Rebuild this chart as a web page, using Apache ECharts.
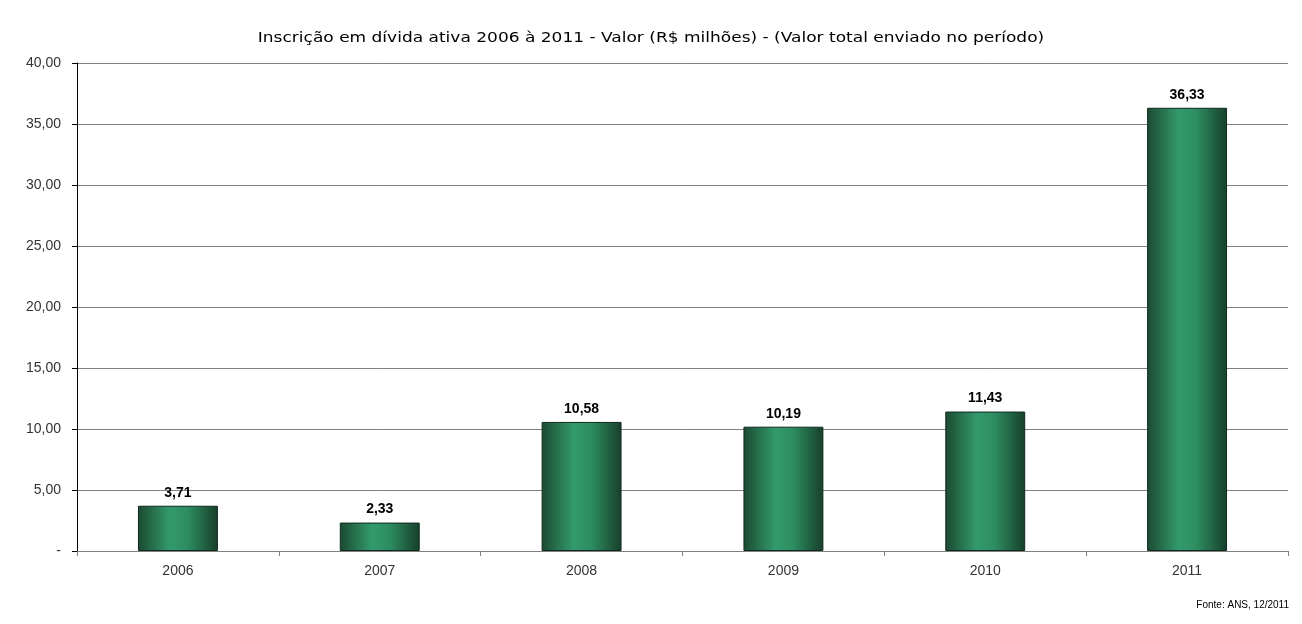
<!DOCTYPE html>
<html>
<head>
<meta charset="utf-8">
<script src="https://cdn.jsdelivr.net/npm/echarts@6/dist/echarts.min.js"></script>
<style>
  html, body { margin: 0; padding: 0; background: #fff; }
  #chart { width: 1302px; height: 624px; }
</style>
</head>
<body>
<div id="chart"></div>
<script>
// Dívida ativa: valor inscrito por ano (R$ milhões)
const years = ['2006', '2007', '2008', '2009', '2010', '2011'];
const values = [3.71, 2.33, 10.58, 10.19, 11.43, 36.33];
const titleText = 'Inscrição em dívida ativa 2006 à 2011 - Valor (R$ milhões) - (Valor total enviado no período)';
const sourceText = 'Fonte: ANS, 12/2011';

const fmt = v => v.toFixed(2).replace('.', ',');

const chart = echarts.init(document.getElementById('chart'), null, { renderer: 'canvas' });

const barFill = new echarts.graphic.LinearGradient(0, 0, 1, 0, [
  { offset: 0, color: '#1b4a32' },
  { offset: 0.4, color: '#339a6c' },
  { offset: 0.62, color: '#2d8d61' },
  { offset: 1, color: '#173f2b' }
]);

chart.setOption({
  animation: false,
  backgroundColor: '#ffffff',
  graphic: [
    {
      // title, widened horizontally
      type: 'text',
      x: 651,
      y: 38,
      scaleX: 1.26,
      style: {
        text: titleText,
        font: '13.5px "DejaVu Sans", sans-serif',
        fill: '#000',
        textAlign: 'center',
        textVerticalAlign: 'middle'
      }
    },
    {
      type: 'text',
      x: 1289,
      y: 605,
      style: {
        text: sourceText,
        font: '10px "Liberation Sans", Arial, sans-serif',
        fill: '#000',
        textAlign: 'right',
        textVerticalAlign: 'middle'
      }
    }
  ],
  grid: { left: 77, right: 14, top: 63, bottom: 73 },
  xAxis: {
    type: 'category',
    data: years,
    boundaryGap: true,
    axisLine: { lineStyle: { color: '#808080', width: 1 } },
    axisTick: { show: true, alignWithLabel: false, length: 5, lineStyle: { color: '#808080' } },
    axisLabel: { color: '#333', fontFamily: 'Liberation Sans', fontSize: 14, margin: 13 }
  },
  yAxis: {
    type: 'value',
    min: 0,
    max: 40,
    interval: 5,
    axisLine: { show: true, lineStyle: { color: '#000', width: 1 } },
    axisTick: { show: true, length: 5, lineStyle: { color: '#000' } },
    axisLabel: {
      color: '#333', fontFamily: 'Liberation Sans', fontSize: 14, margin: 16,
      formatter: v => v === 0 ? '-' : fmt(v)
    },
    splitLine: { show: true, lineStyle: { color: '#808080', width: 1 } }
  },
  series: [{
    type: 'bar',
    data: values,
    barWidth: '39.6%',
    itemStyle: { color: barFill, borderColor: '#0f2a1c', borderWidth: 1 },
    label: {
      show: true,
      position: 'top',
      distance: 6,
      formatter: p => fmt(p.value),
      color: '#000',
      fontFamily: 'Liberation Sans',
      fontWeight: 'bold',
      fontSize: 14
    }
  }]
});
</script>
</body>
</html>
